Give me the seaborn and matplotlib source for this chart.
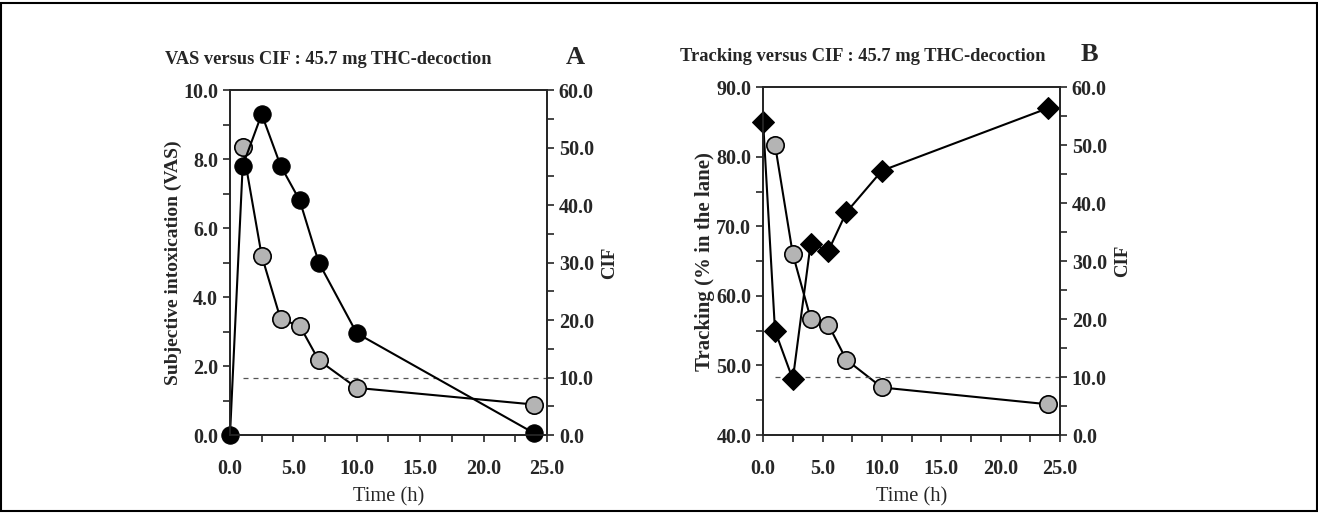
import numpy as np
import pandas as pd
import matplotlib
matplotlib.use('Agg')
import matplotlib.pyplot as plt
import seaborn as sns
from matplotlib.ticker import MultipleLocator, FormatStrFormatter
from matplotlib.patches import Rectangle

# data
time_pd = [0, 1, 2.5, 4, 5.5, 7, 10, 24]
vas = [0.0, 7.8, 9.3, 7.8, 6.8, 5.0, 2.95, 0.05]
tracking = [85.0, 55.0, 48.0, 67.5, 66.5, 72.0, 78.0, 87.0]
time_cif = [1, 2.5, 4, 5.5, 7, 10, 24]
cif = [50.1, 31.2, 20.1, 19.0, 13.0, 8.2, 5.3]
cif_threshold_x = [1, 25]
cif_threshold_y = [10, 10]

sns.set_style('ticks')
plt.rcParams['font.family'] = ['Liberation Serif', 'DejaVu Serif']

fig = plt.figure(figsize=(13.18, 5.13), dpi=100)
fig.patches.append(Rectangle((0.001, 0.004), 0.998, 0.99, transform=fig.transFigure,
                             fill=False, edgecolor='black', linewidth=1.5))

GRAY = '#b4b4b4'


def style_axis(ax):
    for s in ['top', 'right', 'left', 'bottom']:
        ax.spines[s].set_linewidth(1.3)
        ax.spines[s].set_visible(True)
    ax.tick_params(which='major', direction='out', length=5, width=1.2, labelsize=14.5)
    ax.tick_params(which='minor', direction='out', length=5, width=1.2)
    for lbl in ax.get_xticklabels() + ax.get_yticklabels():
        lbl.set_fontweight('bold')


def panel(rect, y, marker, ylim, ystep, ylabel, ylabel_size, title, title_size,
          letter, title_x, letter_x):
    ax = fig.add_axes(rect)
    ax2 = ax.twinx()
    df = pd.DataFrame({'t': time_pd, 'y': y})
    dc = pd.DataFrame({'t': time_cif, 'c': cif})
    sns.lineplot(data=dc, x='t', y='c', ax=ax2, color='black', linewidth=1.5,
                 marker='o', markersize=12.5, markerfacecolor=GRAY,
                 markeredgecolor='black', markeredgewidth=1.2, clip_on=False)
    ax2.plot(cif_threshold_x, cif_threshold_y, linestyle=(0, (4, 4)),
             color='#555555', linewidth=0.9)
    ms = 12.5 if marker == 'o' else 11
    sns.lineplot(data=df, x='t', y='y', ax=ax, color='black', linewidth=1.5,
                 marker=marker, markersize=ms, markerfacecolor='black',
                 markeredgecolor='black', clip_on=False)
    ax.set_zorder(ax2.get_zorder() + 1)
    ax.patch.set_visible(False)

    ax.set_xlim(0, 25)
    ax.set_ylim(*ylim)
    ax2.set_ylim(0, 60)
    ax.xaxis.set_major_locator(MultipleLocator(5))
    ax.xaxis.set_minor_locator(MultipleLocator(2.5))
    ax.yaxis.set_major_locator(MultipleLocator(ystep))
    ax.yaxis.set_minor_locator(MultipleLocator(ystep / 2))
    ax2.yaxis.set_major_locator(MultipleLocator(10))
    ax2.yaxis.set_minor_locator(MultipleLocator(5))
    for a in (ax.xaxis, ax.yaxis, ax2.yaxis):
        a.set_major_formatter(FormatStrFormatter('%.1f'))
    style_axis(ax)
    style_axis(ax2)
    ax.tick_params(axis='x', pad=12)

    ax.set_xlabel('Time (h)', fontsize=14.8, labelpad=6)
    ax.set_ylabel(ylabel, fontsize=ylabel_size, fontweight='bold', labelpad=1)
    ax2.set_ylabel('CIF', fontsize=13.5, fontweight='bold', labelpad=5)
    ax.text(title_x, 1.065, title, transform=ax.transAxes, fontsize=title_size,
            fontweight='bold', ha='left', va='bottom')
    ax.text(letter_x, 1.06, letter, transform=ax.transAxes, fontsize=19,
            fontweight='bold', ha='center', va='bottom')
    return ax


panel([0.1745, 0.152, 0.2405, 0.6725], vas, 'o', (0, 10), 2,
      'Subjective intoxication (VAS)', 14, 'VAS versus CIF : 45.7 mg THC-decoction', 13.2,
      'A', -0.205, 1.088)
panel([0.579, 0.152, 0.2253, 0.678], tracking, 'D', (40, 90), 10,
      'Tracking (% in the lane)', 15, 'Tracking versus CIF : 45.7 mg THC-decoction', 13.3,
      'B', -0.28, 1.1)

fig.savefig('out.png', dpi=100)
